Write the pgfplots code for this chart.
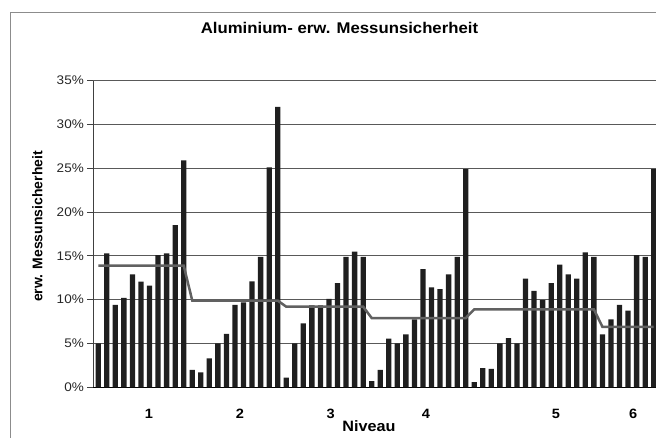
\documentclass[border=0pt]{standalone}
\usepackage{fontspec}
\setmainfont{Liberation Sans}[FakeStretch=1.08]
\newfontfamily\plainsans{Liberation Sans}
\usepackage{pgfplots}
\usepackage{pgfplotstable}
\pgfplotsset{compat=1.18}

% x = Messung, u = erw. Messunsicherheit (%), niv = Mittelwert je Niveau
\pgfplotstableread{
x u niv
1 5.0 13.9
2 15.3 13.9
3 9.4 13.9
4 10.2 13.9
5 12.9 13.9
6 12.05 13.9
7 11.6 13.9
8 15.1 13.9
9 15.3 13.9
10 18.5 13.9
11 25.9 13.9
12 2.0 9.9
13 1.7 9.9
14 3.3 9.9
15 5.0 9.9
16 6.1 9.9
17 9.4 9.9
18 9.7 9.9
19 12.1 9.9
20 14.9 9.9
21 25.1 9.9
22 32.0 9.9
23 1.1 9.2
24 5.0 9.2
25 7.3 9.2
26 9.35 9.2
27 9.35 9.2
28 10.1 9.2
29 11.9 9.2
30 14.9 9.2
31 15.5 9.2
32 14.9 9.2
33 0.7 7.9
34 2.0 7.9
35 5.55 7.9
36 5.0 7.9
37 6.05 7.9
38 7.75 7.9
39 13.5 7.9
40 11.4 7.9
41 11.2 7.9
42 12.9 7.9
43 14.9 7.9
44 24.9 7.9
45 0.6 8.9
46 2.2 8.9
47 2.1 8.9
48 5.0 8.9
49 5.6 8.9
50 5.0 8.9
51 12.4 8.9
52 11.0 8.9
53 9.96 8.9
54 11.9 8.9
55 14.0 8.9
56 12.9 8.9
57 12.4 8.9
58 15.4 8.9
59 14.9 8.9
60 6.05 6.9
61 7.75 6.9
62 9.4 6.9
63 8.75 6.9
64 15.1 6.9
65 14.9 6.9
66 24.9 6.9
}\data

\begin{document}
\begin{tikzpicture}
\begin{axis}[
  scale only axis, width=562.7pt, height=306.6pt,
  xmin=0.42, xmax=66.27, ymin=0, ymax=35,
  axis x line*=bottom, axis y line*=left,
  axis line style={black!75, line width=0.8pt},
  x axis line style={black},
  /pgf/number format/assume math mode=true,
  ytick={0,5,...,35},
  yticklabel={\pgfmathprintnumber{\tick}\%},
  ymajorgrids, grid style={black!65, line width=0.9pt},
  xtick={6.93,17.58,28.2,39.35,54.56,63.6},
  xticklabels={1,2,3,4,5,6},
  x tick style={draw=none},
  y tick style={black!75, line width=0.8pt},
  tick align=outside, major tick length=6pt,
  yticklabel style={font=\fontsize{12.5}{14}\selectfont, text=black!85, anchor=east},
  xticklabel style={font=\bfseries\fontsize{13.5}{15}\selectfont, anchor=center, yshift=-20.4pt},
  title={Aluminium- erw. Messunsicherheit},
  title style={font=\bfseries\fontsize{15.5}{18}\selectfont, at={(axis description cs:0.4375,1.152)}, anchor=center},
  xlabel={Niveau},
  xlabel style={font=\bfseries\fontsize{15}{18}\selectfont, at={(axis description cs:0.49,-0.1272)}, anchor=center},
  ylabel={erw. Messunsicherheit},
  ylabel style={font=\plainsans\bfseries\fontsize{14}{16}\selectfont, at={(axis description cs:-0.0992,0.5245)}, anchor=center},
]
\addplot[ybar, bar width=5.3pt, fill=black!88, draw=none] table[x=x, y=u] {\data};
\addplot[black!62, line width=2.5pt, mark=none] table[x=x, y=niv] {\data};
\end{axis}
\draw[black!45, line width=0.9pt] (-82.8pt,-60pt) -- (-82.8pt,375.3pt) -- (580pt,375.3pt);
\pgfresetboundingbox
\path[use as bounding box] (-93.3pt,-50.7pt) rectangle (562.7pt,387.3pt);
\end{tikzpicture}
\end{document}
